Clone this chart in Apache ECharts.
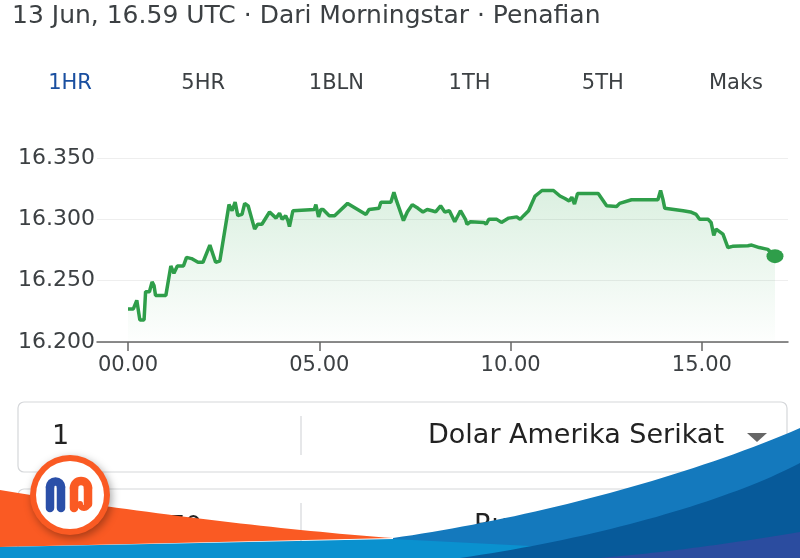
<!DOCTYPE html>
<html>
<head>
<meta charset="utf-8">
<script src="https://cdn.jsdelivr.net/npm/echarts@6/dist/echarts.min.js"></script>
<style>
  html, body { margin: 0; padding: 0; background: #fff; }
  #chart { width: 800px; height: 560px; }
</style>
</head>
<body>
<div id="chart"></div>
<script>
// hours since 00.00 UTC
const hours = [0.00, 0.14, 0.23, 0.27, 0.31, 0.42, 0.46, 0.56, 0.63, 0.68, 0.72, 0.99, 1.12, 1.20, 1.29, 1.45,
  1.53, 1.66, 1.83, 1.96, 2.14, 2.29, 2.40, 2.64, 2.72, 2.80, 2.87, 2.98, 3.05, 3.14, 3.31, 3.39, 3.50, 3.70,
  3.87, 3.96, 4.03, 4.12, 4.18, 4.22, 4.31, 4.87, 4.91, 4.98, 5.04, 5.10, 5.26, 5.40, 5.74, 6.22, 6.30, 6.56,
  6.61, 6.87, 6.95, 7.02, 7.20, 7.30, 7.43, 7.58, 7.71, 7.82, 7.95, 8.04, 8.17, 8.28, 8.40, 8.54, 8.69, 8.82,
  8.86, 8.95, 9.30, 9.36, 9.43, 9.64, 9.76, 9.95, 10.16, 10.25, 10.34, 10.47, 10.64, 10.82, 11.12, 11.29,
  11.42, 11.53, 11.60, 11.67, 11.75, 12.29, 12.51, 12.77, 12.85, 13.16, 13.85, 13.92, 13.98, 14.03, 14.51,
  14.70, 14.85, 14.94, 15.16, 15.24, 15.31, 15.37, 15.46, 15.55, 15.68, 15.80, 16.20, 16.30, 16.50, 16.72,
  16.76, 16.91]
// IDR per 1 USD
const rates = [16.227, 16.227, 16.234, 16.233, 16.218, 16.218, 16.241, 16.241, 16.249, 16.246, 16.238, 16.238,
  16.262, 16.256, 16.262, 16.262, 16.269, 16.268, 16.265, 16.265, 16.279, 16.265, 16.266, 16.312, 16.307,
  16.314, 16.303, 16.304, 16.313, 16.311, 16.292, 16.296, 16.296, 16.306, 16.301, 16.305, 16.300, 16.303,
  16.299, 16.294, 16.307, 16.308, 16.312, 16.302, 16.308, 16.308, 16.303, 16.303, 16.313, 16.304, 16.308,
  16.309, 16.314, 16.314, 16.322, 16.315, 16.299, 16.306, 16.312, 16.309, 16.306, 16.308, 16.307, 16.306,
  16.311, 16.306, 16.307, 16.298, 16.307, 16.300, 16.296, 16.298, 16.2975, 16.296, 16.300, 16.300, 16.2975,
  16.301, 16.302, 16.300, 16.303, 16.307, 16.319, 16.3235, 16.3235, 16.319, 16.317, 16.315, 16.318, 16.3125,
  16.321, 16.321, 16.311, 16.3105, 16.313, 16.316, 16.316, 16.3235, 16.3165, 16.309, 16.307, 16.306, 16.304,
  16.300, 16.300, 16.2975, 16.287, 16.292, 16.290, 16.288, 16.277, 16.278, 16.2785, 16.279, 16.277, 16.2755,
  16.277, 16.270]
const xTicks = [0, 5, 10, 15]
const tabs = ['1HR', '5HR', '1BLN', '1TH', '5TH', 'Maks']
const header = '13 Jun, 16.59 UTC · Dari Morningstar · Penafian'

const font = 'DejaVu Sans'
const green = '#2f9e4a'
const textColor = '#3c4043'

const myChart = echarts.init(document.getElementById('chart'))

const points = hours.map((h, i) => [h, rates[i]])
const last = points[points.length - 1]

// sample a cubic curve into polygon points (decorative shapes only)
function curve(p0, p1, p2, p3) {
    const out = []
    for (let i = 0; i <= 40; i++) {
        const t = i / 40, u = 1 - t
        out.push([
            u * u * u * p0[0] + 3 * u * u * t * p1[0] + 3 * u * t * t * p2[0] + t * t * t * p3[0],
            u * u * u * p0[1] + 3 * u * u * t * p1[1] + 3 * u * t * t * p2[1] + t * t * t * p3[1]
        ])
    }
    return out
}
function wave(pts, tail, fill, z) {
    return {
        type: 'polygon',
        z: z,
        shape: { points: curve(...pts).concat(tail) },
        style: { fill: fill }
    }
}
function stroke(type, shape, color, width, z) {
    return {
        type: type,
        z: z,
        shape: shape,
        style: { fill: 'none', stroke: color, lineWidth: width, lineCap: 'round' }
    }
}

const tabGraphics = tabs.map((t, i) => ({
    type: 'text',
    x: 70 + i * 133.2,
    y: 84,
    style: {
        text: t,
        font: '21px ' + font,
        fill: i === 0 ? '#1a4fa0' : textColor,
        align: 'center',
        verticalAlign: 'middle'
    }
}))

const option = {
    animation: false,
    backgroundColor: '#fff',
    grid: {
        top: 158,
        bottom: 218,
        left: 97,
        right: 12
    },
    xAxis: {
        type: 'value',
        min: -0.81,
        max: 17.25,
        splitLine: { show: false },
        axisLine: {
            lineStyle: { color: '#666', width: 1.5 }
        },
        axisTick: {
            customValues: xTicks,
            length: 9,
            lineStyle: { color: '#666', width: 1.5 }
        },
        axisLabel: {
            customValues: xTicks,
            margin: 13,
            color: textColor,
            fontFamily: font,
            fontSize: 21,
            formatter: v => (v < 10 ? '0' : '') + v + '.00'
        }
    },
    yAxis: {
        type: 'value',
        min: 16.2,
        max: 16.35,
        interval: 0.05,
        axisLine: { show: false },
        axisTick: { show: false },
        axisLabel: {
            margin: 2,
            color: textColor,
            fontFamily: font,
            fontSize: 22,
            formatter: v => v.toFixed(3)
        },
        splitLine: {
            lineStyle: { color: '#eeeeee', width: 1 }
        }
    },
    series: [
        {
            type: 'line',
            data: points,
            showSymbol: false,
            symbol: 'none',
            lineStyle: { color: green, width: 3.5 },
            areaStyle: {
                color: {
                    type: 'linear',
                    x: 0, y: 0, x2: 0, y2: 1,
                    colorStops: [
                        { offset: 0, color: 'rgba(52, 168, 83, 0.25)' },
                        { offset: 1, color: 'rgba(52, 168, 83, 0.01)' }
                    ]
                }
            },
            z: 3
        },
        {
            type: 'scatter',
            data: [last],
            symbol: 'circle',
            symbolSize: [17, 14],
            itemStyle: { color: green, opacity: 1 },
            z: 4
        }
    ],
    graphic: [
        {
            type: 'text',
            x: 12,
            y: 16,
            style: {
                text: header,
                font: '25px ' + font,
                fill: textColor,
                verticalAlign: 'middle'
            }
        },
        ...tabGraphics,
        // converter boxes
        {
            type: 'rect',
            shape: { x: 18, y: 402, width: 769, height: 70, r: 6 },
            style: { fill: '#fff', stroke: '#d5d7da', lineWidth: 1.2 }
        },
        {
            type: 'line',
            shape: { x1: 301, y1: 416, x2: 301, y2: 455 },
            style: { stroke: '#d5d7da', lineWidth: 1.2 }
        },
        {
            type: 'text',
            x: 52,
            y: 437,
            style: { text: '1', font: '27px ' + font, fill: '#222', verticalAlign: 'middle' }
        },
        {
            type: 'text',
            x: 724,
            y: 436,
            style: { text: 'Dolar Amerika Serikat', font: '27px ' + font, fill: '#222', align: 'right', verticalAlign: 'middle' }
        },
        {
            type: 'polygon',
            shape: { points: [[747, 433], [767, 433], [757, 442]] },
            style: { fill: '#666' }
        },
        {
            type: 'rect',
            shape: { x: 18, y: 489, width: 769, height: 90, r: 6 },
            style: { fill: '#fff', stroke: '#d5d7da', lineWidth: 1.2 }
        },
        {
            type: 'line',
            shape: { x1: 301, y1: 503, x2: 301, y2: 560 },
            style: { stroke: '#d5d7da', lineWidth: 1.2 }
        },
        {
            type: 'text',
            x: 202,
            y: 528,
            style: { text: '16.270', font: '27px ' + font, fill: '#222', align: 'right', verticalAlign: 'middle' }
        },
        {
            type: 'text',
            x: 474,
            y: 526,
            style: { text: 'Rupiah Indonesia', font: '27px ' + font, fill: '#222', verticalAlign: 'middle' }
        },
        // watermark waves
        wave([[0, 490], [120, 510], [280, 530], [393, 538]], [[0, 547]], '#fa5a23', 100),
        wave([[393, 538], [520, 520], [680, 480], [800, 428]], [[800, 558], [393, 558]], '#1479bd', 101),
        {
            type: 'polygon',
            z: 102,
            shape: { points: [[0, 547], [200, 543], [393, 539], [550, 547], [800, 553], [800, 558], [0, 558]] },
            style: { fill: '#0a91cf' }
        },
        wave([[460, 558], [600, 538], [730, 500], [800, 463]], [[800, 558]], '#075a9a', 103),
        wave([[600, 558], [670, 552], [740, 542], [800, 532]], [[800, 558]], '#2b4c9f', 104),
        {
            type: 'rect',
            z: 105,
            shape: { x: 0, y: 558, width: 800, height: 2 },
            style: { fill: '#fff' }
        },
        // logo
        {
            type: 'circle',
            z: 110,
            shape: { cx: 70, cy: 495, r: 40 },
            style: { fill: '#fa5a23', shadowBlur: 8, shadowColor: 'rgba(0,0,0,0.35)', shadowOffsetX: 2, shadowOffsetY: 3 }
        },
        {
            type: 'circle',
            z: 111,
            shape: { cx: 70, cy: 495, r: 34 },
            style: { fill: '#fff' }
        },
        stroke('polyline', { points: [[50, 508], [50, 487]] }, '#2a4fa8', 8.5, 112),
        stroke('arc', { cx: 55.5, cy: 487, r: 5.5, startAngle: Math.PI, endAngle: Math.PI * 2, clockwise: true }, '#2a4fa8', 8.5, 112),
        stroke('polyline', { points: [[61, 487], [61, 508]] }, '#2a4fa8', 8.5, 112),
        stroke('polyline', { points: [[74, 508], [74, 488]] }, '#fa5a23', 8.5, 113),
        stroke('arc', { cx: 81, cy: 488, r: 7, startAngle: Math.PI, endAngle: Math.PI * 2, clockwise: true }, '#fa5a23', 8.5, 113),
        stroke('polyline', { points: [[88, 488], [88, 504]] }, '#fa5a23', 8.5, 113),
        stroke('arc', { cx: 84, cy: 504, r: 4, startAngle: 0, endAngle: Math.PI, clockwise: true }, '#fa5a23', 6, 113)
    ]
}

myChart.setOption(option)
window.addEventListener('resize', () => {
    myChart && myChart.resize()
})
</script>
</body>
</html>
